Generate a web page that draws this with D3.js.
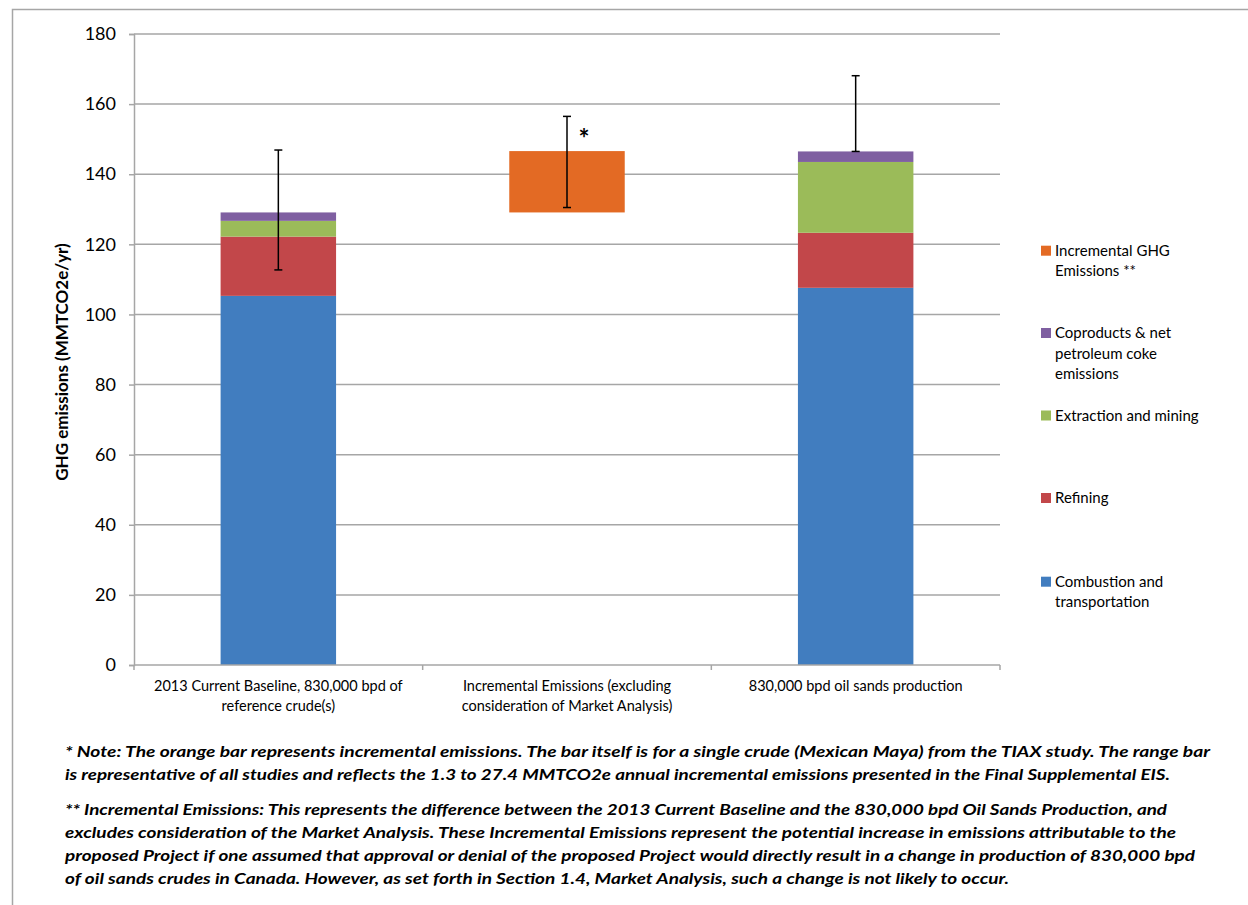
<!DOCTYPE html>
<html><head><meta charset="utf-8">
<script src="https://cdn.jsdelivr.net/npm/d3@7"></script>
<style>
html,body{margin:0;padding:0;background:#fff;}
svg{display:block;}
text{font-family:Lato,"Open Sans",sans-serif;fill:#000;}
</style></head>
<body>
<svg id="chart" width="1248" height="905"></svg>
<script>
// ---- data ----
const categories = ["baseline", "incremental", "oilsands"];
const categoryLabels = [
  ["2013 Current Baseline, 830,000 bpd of", "reference crude(s)"],
  ["Incremental Emissions (excluding", "consideration of Market Analysis)"],
  ["830,000 bpd oil sands production"]
];
const combustion = [105.3, 0, 107.6];
const refining   = [16.9, 0, 15.7];
const extraction = [4.5, 0, 20.2];
const coproducts = [2.4, 0, 3.0];
const hiddenBase = [0, 129.1, 0];
const incremental = [0, 17.5, 0];
const errLow  = [112.7, 130.5, 146.5];
const errHigh = [146.9, 156.5, 168.1];
const yTicks = [0, 20, 40, 60, 80, 100, 120, 140, 160, 180];
const seriesNames = ["Combustion and transportation", "Refining", "Extraction and mining",
  "Coproducts & net petroleum coke emissions", "Hidden base", "Incremental GHG Emissions **"];
const legendLines = [
  ["Incremental GHG", "Emissions **"],
  ["Coproducts & net", "petroleum coke", "emissions"],
  ["Extraction and mining"],
  ["Refining"],
  ["Combustion and", "transportation"]
];
const legendColors = ["#E36A24", "#7F5FA1", "#9BBB59", "#C2474A", "#417DBF"];
const seriesColors = ["#417DBF", "#C2474A", "#9BBB59", "#7F5FA1", "none", "#E36A24"];
const notes = [
  "* Note: The orange bar represents incremental emissions.  The bar itself is for a single crude (Mexican Maya) from the TIAX study. The range bar",
  "is representative of all studies and reflects the 1.3 to 27.4 MMTCO2e annual incremental emissions presented in the Final Supplemental EIS.",
  "** Incremental Emissions: This represents the difference between the 2013 Current Baseline and the 830,000 bpd Oil Sands Production, and",
  "excludes consideration of the Market Analysis. These Incremental Emissions represent the potential increase in emissions attributable to the",
  "proposed Project if one assumed that approval or denial of the proposed Project would directly result in a change in production of 830,000 bpd",
  "of oil sands crudes in Canada. However, as set forth in Section 1.4, Market Analysis, such a change is not likely to occur."
];
const noteWidths = [1145, 1105, 1102, 1111, 1130, 944];
const noteY = [757, 780, 815, 838, 861, 884];

// ---- build ----
const svg = d3.select("#chart");
const gridColor = "#A6A6A6";

// outer border (left + top)
svg.append("path").attr("d", "M12.5,905 L12.5,9.5 L1248,9.5")
  .attr("fill", "none").attr("stroke", "#A6A6A6").attr("stroke-width", 1.5);

const x = d3.scaleBand().domain(categories).range([134, 1000]).paddingInner(0.6).paddingOuter(0.3);
const y = d3.scaleLinear().domain([0, 180]).range([665, 34]);

// gridlines
svg.append("g").selectAll("line").data(yTicks.filter(d => d > 0)).join("line")
  .attr("x1", 134).attr("x2", 1000)
  .attr("y1", d => y(d)).attr("y2", d => y(d))
  .attr("stroke", gridColor).attr("stroke-width", 1.5);

// y axis
const yAxis = d3.axisLeft(y).tickValues(yTicks).tickSize(5).tickPadding(13).tickFormat(d3.format("d"));
const gy = svg.append("g").attr("transform", "translate(134,0)").call(yAxis);
gy.select(".domain").attr("stroke", gridColor).attr("stroke-width", 1.5);
gy.selectAll(".tick line").attr("stroke", gridColor).attr("stroke-width", 1.5);
gy.selectAll(".tick text").attr("font-size", 18).attr("font-family", "Lato").attr("fill", "#000");

// stacked bars
const rows = categories.map((c, i) => ({
  cat: c, s0: combustion[i], s1: refining[i], s2: extraction[i], s3: coproducts[i], s4: hiddenBase[i], s5: incremental[i]
}));
const stack = d3.stack().keys(["s0", "s1", "s2", "s3", "s4", "s5"]);
const layers = stack(rows);
svg.append("g").selectAll("g").data(layers).join("g")
  .attr("fill", (d, i) => seriesColors[i])
  .selectAll("rect").data(d => d.filter(p => p[1] - p[0] > 0)).join("rect")
  .attr("x", d => x(d.data.cat))
  .attr("width", x.bandwidth())
  .attr("y", d => y(d[1]))
  .attr("height", d => y(d[0]) - y(d[1]));

// x axis
const xAxisG = svg.append("g").attr("transform", "translate(0,665)");
xAxisG.append("line").attr("x1", 134).attr("x2", 1000).attr("stroke", gridColor).attr("stroke-width", 1.5);
const bounds = [134].concat(categories.map(c => x(c) + x.bandwidth() / 2 + x.step() / 2));
xAxisG.selectAll("line.tk").data(bounds).join("line").attr("class", "tk")
  .attr("x1", d => d).attr("x2", d => d).attr("y1", 0).attr("y2", 5)
  .attr("stroke", gridColor).attr("stroke-width", 1.5);
xAxisG.selectAll("text").data(categories).join("text")
  .attr("x", c => x(c) + x.bandwidth() / 2)
  .attr("text-anchor", "middle").attr("font-size", 14.5)
  .selectAll("tspan").data((c, i) => categoryLabels[i]).join("tspan")
  .attr("x", function () { return d3.select(this.parentNode).attr("x"); })
  .attr("y", (d, j) => 26 + j * 20)
  .text(d => d);

// error bars
const eg = svg.append("g").attr("stroke", "#000").attr("stroke-width", 1.5);
categories.forEach((c, i) => {
  const cx = x(c) + x.bandwidth() / 2;
  eg.append("line").attr("x1", cx).attr("x2", cx).attr("y1", y(errLow[i])).attr("y2", y(errHigh[i]));
  [errLow[i], errHigh[i]].forEach(v => {
    eg.append("line").attr("x1", cx - 4).attr("x2", cx + 4).attr("y1", y(v)).attr("y2", y(v));
  });
});
// asterisk
svg.append("text").attr("x", x("incremental") + x.bandwidth() / 2 + 17).attr("y", y(147.5))
  .attr("text-anchor", "middle").attr("font-size", 26).attr("font-weight", "bold").text("*");

// y title
svg.append("text").attr("transform", "translate(68,362) rotate(-90)")
  .attr("text-anchor", "middle").attr("font-size", 17).attr("font-weight", "bold")
  .text("GHG emissions (MMTCO2e/yr)");

// legend
const legendCenters = [250.7, 333, 415.5, 498, 581.7];
const lg = svg.append("g");
legendLines.forEach((lines, i) => {
  lg.append("rect").attr("x", 1041).attr("y", legendCenters[i] - 5).attr("width", 10).attr("height", 10)
    .attr("fill", legendColors[i]);
  const t = lg.append("text").attr("font-size", 15);
  lines.forEach((ln, j) => {
    t.append("tspan").attr("x", 1055).attr("y", legendCenters[i] + 5 + j * 20.5).text(ln);
  });
});

// notes
svg.append("g").selectAll("text").data(notes).join("text")
  .attr("x", 65).attr("y", (d, i) => noteY[i])
  .attr("font-size", 16).attr("font-weight", "bold").attr("font-style", "italic")
  .attr("textLength", (d, i) => noteWidths[i]).attr("lengthAdjust", "spacingAndGlyphs")
  .text(d => d);
</script>
</body></html>
